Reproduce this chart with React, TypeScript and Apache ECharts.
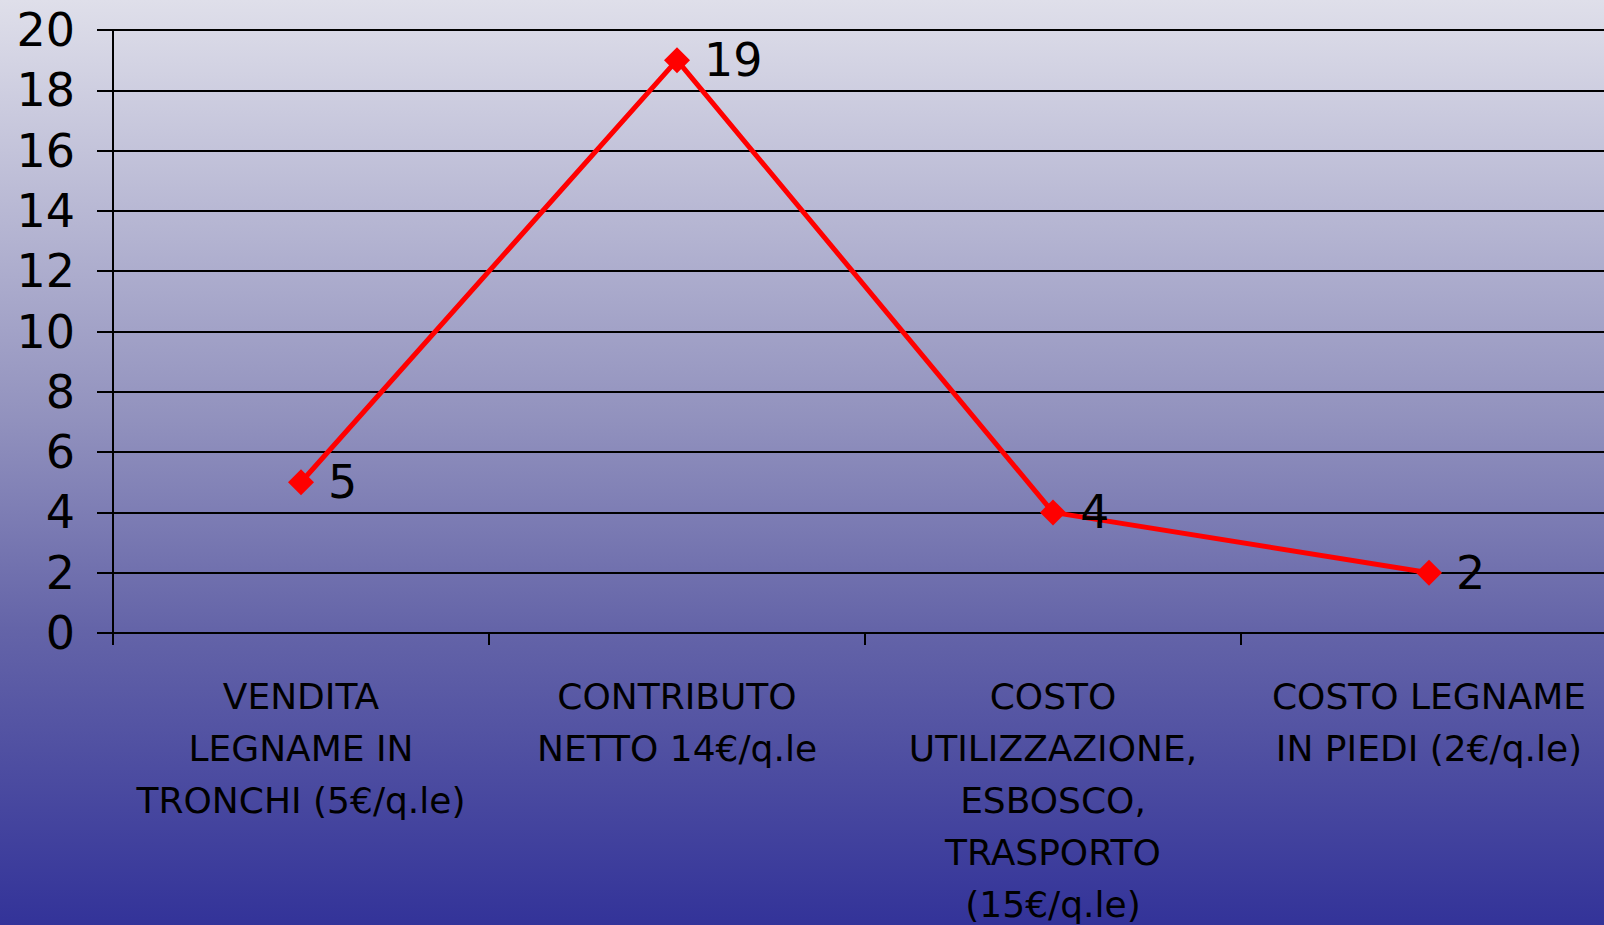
import React, { useEffect, useRef } from "react";
import * as echarts from "echarts";

const categories: string[] = [
  "VENDITA\nLEGNAME IN\nTRONCHI (5€/q.le)",
  "CONTRIBUTO\nNETTO 14€/q.le",
  "COSTO\nUTILIZZAZIONE,\nESBOSCO,\nTRASPORTO\n(15€/q.le)",
  "COSTO LEGNAME\nIN PIEDI (2€/q.le)",
];
const values: number[] = [5, 19, 4, 2];
const yMin = 0;
const yMax = 20;
const yInterval = 2;

export default function App() {
  const ref = useRef<HTMLDivElement>(null);
  useEffect(() => {
    if (!ref.current) return;
    const chart = echarts.init(ref.current, null, { renderer: "svg" });
    const font = "DejaVu Sans";
    chart.setOption({
      animation: false,
      backgroundColor: {
        type: "linear",
        x: 0,
        y: 0,
        x2: 0,
        y2: 1,
        colorStops: [
          { offset: 0, color: "#DFDFEA" },
          { offset: 0.45, color: "#9292BE" },
          { offset: 0.68, color: "#6464A8" },
          { offset: 1, color: "#333399" },
        ],
      },
      grid: {
        left: 113,
        top: 30,
        bottom: 292,
        right: -13,
        containLabel: false,
        outerBoundsMode: "none",
      },
      xAxis: {
        type: "category",
        data: categories,
        boundaryGap: true,
        axisLine: { show: true, lineStyle: { color: "#000", width: 2 } },
        axisTick: { show: true, length: 12, alignWithLabel: false, lineStyle: { color: "#000", width: 2 } },
        axisLabel: {
          interval: 0,
          color: "#000",
          fontFamily: font,
          fontSize: 36,
          lineHeight: 52,
          margin: 37,
          align: "center",
          hideOverlap: false,
        },
        splitLine: { show: false },
      },
      yAxis: {
        type: "value",
        min: yMin,
        max: yMax,
        interval: yInterval,
        axisLine: { show: true, lineStyle: { color: "#000", width: 2 } },
        axisTick: { show: true, length: 16, lineStyle: { color: "#000", width: 2 } },
        axisLabel: { color: "#000", fontFamily: font, fontSize: 46, margin: 38 },
        splitLine: { show: true, lineStyle: { color: "#000", width: 2 } },
      },
      series: [
        {
          type: "line",
          data: values,
          symbol: "diamond",
          symbolSize: 26,
          lineStyle: { color: "#FF0000", width: 5 },
          itemStyle: { color: "#FF0000" },
          label: {
            show: true,
            position: "right",
            distance: 14,
            color: "#000",
            fontFamily: font,
            fontSize: 46,
          },
        },
      ],
    });
    return () => chart.dispose();
  }, []);
  return (
    <div
      ref={ref}
      style={{ position: "fixed", left: 0, top: 0, width: 1604, height: 925, overflow: "hidden" }}
    />
  );
}
